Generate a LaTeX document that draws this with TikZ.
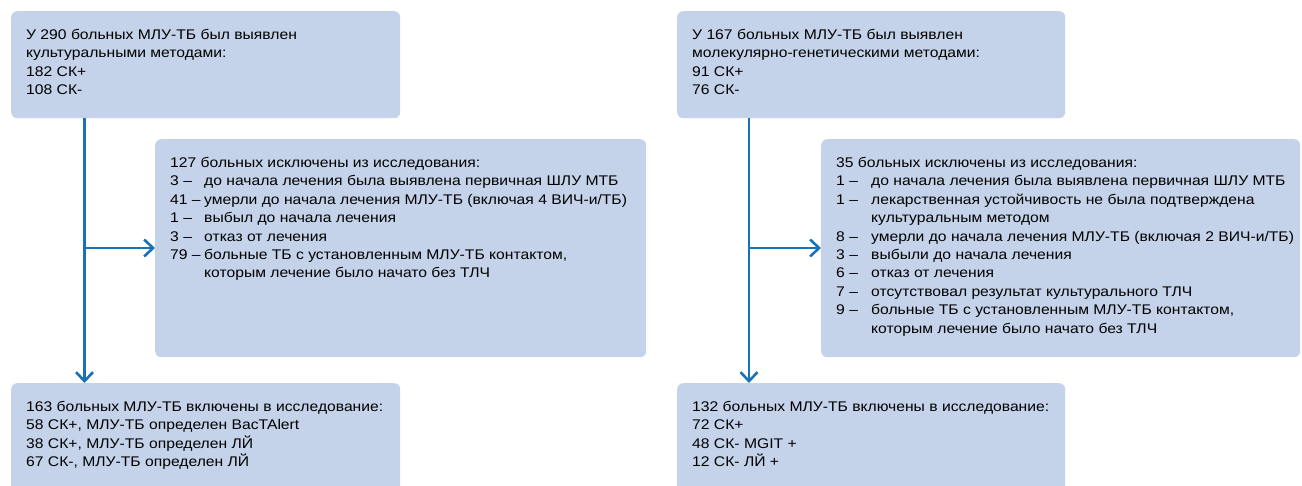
\documentclass[tikz,border=0pt]{standalone}
\usepackage{fontspec}
\setmainfont{Liberation Sans}[FakeStretch=1.12]
\usetikzlibrary{positioning, arrows.meta}

\definecolor{boxfill}{RGB}{197,211,234}
\definecolor{flowblue}{RGB}{24,114,186}

% text block inside a box: width, height, rows
\newcommand{\boxtext}[3]{\parbox[c][#2][t]{#1}{\vspace*{15.5pt}\begin{tabular}[t]{@{}l@{}}#3\end{tabular}}}
\newcommand{\itm}[3][34pt]{\makebox[#1][l]{#2 –}#3}

\begin{document}
\begin{tikzpicture}[
        x=1pt, y=-1pt,
        box/.style={fill=boxfill, rounded corners=6pt, anchor=north west, inner xsep=15pt, inner ysep=0pt,
            font=\fontsize{14}{18.4}\selectfont},
        flow/.style={draw=flowblue, line width=2.6pt, -{Straight Barb[length=9pt, width=17pt]}}
    ]
        \useasboundingbox (0,0) rectangle (1302,485);

        % left branch: culture methods
        \node[box] (cult_src) at (11,11) {\boxtext{359pt}{107pt}{%
            У 290 больных МЛУ-ТБ был выявлен\\
            культуральными методами:\\
            182 СК+\\
            108 СК-}};
        \node[box] (cult_out) at (155,139) {\boxtext{461pt}{218pt}{%
            127 больных исключены из исследования:\\
            \itm{3}{до начала лечения была выявлена первичная ШЛУ МТБ}\\
            \itm{41}{умерли до начала лечения МЛУ-ТБ (включая 4 ВИЧ-и/ТБ)}\\
            \itm{1}{выбыл до начала лечения}\\
            \itm{3}{отказ от лечения}\\
            \itm{79}{больные ТБ с установленным МЛУ-ТБ контактом,}\\
            \hspace*{34pt}которым лечение было начато без ТЛЧ}};
        \node[box] (cult_in) at (11,383) {\boxtext{359pt}{125pt}{%
            163 больных МЛУ-ТБ включены в исследование:\\
            58 СК+, МЛУ-ТБ определен BacTAlert\\
            38 СК+, МЛУ-ТБ определен ЛЙ\\
            67 СК-, МЛУ-ТБ определен ЛЙ}};

        \coordinate (cult_split) at (84.5,248);
        \draw[flow] (cult_src.south -| cult_split) -- (cult_in.north -| cult_split);
        \draw[flow] (cult_split) -- (cult_split -| cult_out.west);

        % right branch: molecular methods
        \node[box] (mol_src) at (677,11) {\boxtext{358pt}{107pt}{%
            У 167 больных МЛУ-ТБ был выявлен\\
            молекулярно-генетическими методами:\\
            91 СК+\\
            76 СК-}};
        \node[box] (mol_out) at (821,139) {\boxtext{449pt}{218pt}{%
            35 больных исключены из исследования:\\
            \itm[35pt]{1}{до начала лечения была выявлена первичная ШЛУ МТБ}\\
            \itm[35pt]{1}{лекарственная устойчивость не была подтверждена}\\
            \hspace*{35pt}культуральным методом\\
            \itm[35pt]{8}{умерли до начала лечения МЛУ-ТБ (включая 2 ВИЧ-и/ТБ)}\\
            \itm[35pt]{3}{выбыли до начала лечения}\\
            \itm[35pt]{6}{отказ от лечения}\\
            \itm[35pt]{7}{отсутствовал результат культурального ТЛЧ}\\
            \itm[35pt]{9}{больные ТБ с установленным МЛУ-ТБ контактом,}\\
            \hspace*{35pt}которым лечение было начато без ТЛЧ}};
        \node[box] (mol_in) at (677,383) {\boxtext{358pt}{125pt}{%
            132 больных МЛУ-ТБ включены в исследование:\\
            72 СК+\\
            48 СК- MGIT +\\
            12 СК- ЛЙ +}};

        \coordinate (mol_split) at (749,248);
        \draw[flow] (mol_src.south -| mol_split) -- (mol_in.north -| mol_split);
        \draw[flow] (mol_split) -- (mol_split -| mol_out.west);

    \end{tikzpicture}
\end{document}
